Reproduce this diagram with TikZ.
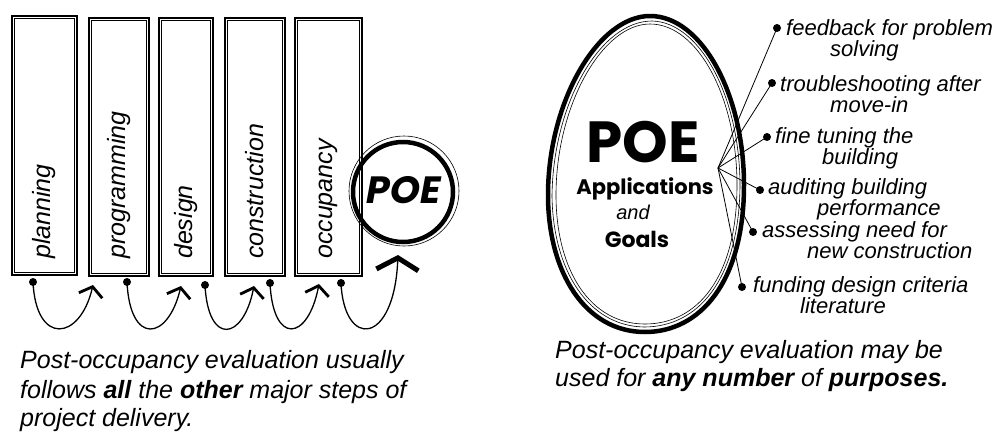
\documentclass[tikz,border=0pt]{standalone}
\usepackage{fontspec}
\setmainfont{Liberation Sans}
\newfontfamily\bubble{Poppins}
\newfontfamily\bubbleslant[FakeSlant=0.18]{Poppins}
\usetikzlibrary{arrows.meta}
\tikzset{
  hand/.style={font=\fontsize{22}{24}\selectfont\itshape, inner sep=0pt, anchor=base west},
  caption/.style={font=\fontsize{25}{29}\selectfont\itshape, inner sep=0pt, anchor=base west},
  boxlabel/.style={font=\fontsize{25}{29}\selectfont\itshape, inner sep=0pt, rotate=90, anchor=west},
  stepbox/.style={draw, line width=2.6pt, inner sep=0pt},
  innerline/.style={line width=0.6pt},
  dot/.style={circle, fill, inner sep=0pt, minimum size=8pt},
  loopline/.style={line width=1.3pt, -{Straight Barb[length=9pt,width=24pt,line width=2.8pt]}},
  lastloop/.style={line width=1.3pt, -{Straight Barb[length=12pt,width=42pt,line width=5pt]}},
  spoke/.style={line width=0.8pt},
  eggtext/.style={font=\bubble\bfseries\fontsize{21}{24}\selectfont, inner sep=0pt, anchor=base},
}
\begin{document}
\begin{tikzpicture}[x=1pt,y=-1pt]
\useasboundingbox (0,0) rectangle (1005,432);

% ---------- left: steps of project delivery ----------
\node[stepbox, minimum width=65pt, minimum height=259pt] (b1) at (44.5,145.5) {};
\node[stepbox, minimum width=60pt, minimum height=258pt] (b2) at (119,147) {};
\node[stepbox, minimum width=54pt, minimum height=258pt] (b3) at (186,147) {};
\node[stepbox, minimum width=60pt, minimum height=258pt] (b4) at (255,147) {};
\node[stepbox, minimum width=67pt, minimum height=258pt] (b5) at (328.5,147) {};
\foreach \b in {b1,b2,b3,b4,b5}{
  \draw[innerline] ([shift={(4,4)}]\b.north west) rectangle ([shift={(-4,-4)}]\b.south east);
}

\node[boxlabel] (l1) at (44,259) {planning};
\node[boxlabel] (l2) at (119,259) {programming};
\node[boxlabel] (l3) at (186,259) {design};
\node[boxlabel] (l4) at (255,259) {construction};
\node[boxlabel] (l5) at (328,259) {occupancy};

% POE circle
\node[circle, draw, line width=4.5pt, minimum size=100pt, inner sep=0pt] (poe) at (403,192) {};
\draw[innerline] (404,191) circle[radius=55];
\node[font=\bubbleslant\bfseries\fontsize{38}{40}\selectfont, inner sep=0pt] (poetxt) at (402,190) {POE};

% dots under the boxes
\node[dot] (d1) at (33,282) {};
\node[dot] (d2) at (127,282) {};
\node[dot] (d3) at (205,285) {};
\node[dot] (d4) at (270,283) {};
\node[dot] (d5) at (341,283) {};
\coordinate (t1) at (93,285);
\coordinate (t2) at (181,286);
\coordinate (t3) at (254,286);
\coordinate (t4) at (319,284);
\coordinate (t5) at (398,255);

\draw[loopline] (d1.center) .. controls (36,346) and (80,341) .. (t1);
\draw[loopline] (d2.center) .. controls (130,346) and (168,341) .. (t2);
\draw[loopline] (d3.center) .. controls (208,346) and (243,341) .. (t3);
\draw[loopline] (d4.center) .. controls (273,346) and (308,341) .. (t4);
\draw[lastloop] (d5.center) .. controls (344,349) and (394,346) .. (t5);

% left caption
\node[caption] (c1) at (20,368) {Post-occupancy evaluation usually};
\node[caption] (c2) at (20,398) {follows \textbf{all} the \textbf{other} major steps of};
\node[caption] (c3) at (20,426) {project delivery.};

% ---------- right: applications and goals ----------
\draw[line width=4.5pt]
  (650,16) .. controls (702,16) and (744,95) .. (744,185)
  .. controls (744,282) and (700,332) .. (645,332)
  .. controls (585,332) and (548,272) .. (548,195)
  .. controls (548,102) and (598,16) .. (650,16) -- cycle;
\draw[innerline]
  (650,24) .. controls (698,24) and (737,98) .. (737,185)
  .. controls (737,278) and (697,324) .. (645,324)
  .. controls (590,324) and (556,270) .. (556,195)
  .. controls (556,106) and (602,24) .. (650,24) -- cycle;
\draw[innerline]
  (652,21) .. controls (700,22) and (740,97) .. (740,186)
  .. controls (739,280) and (698,327) .. (644,327)
  .. controls (588,326) and (553,270) .. (552,196)
  .. controls (553,104) and (600,21) .. (652,21) -- cycle;

\node[font=\bubble\bfseries\fontsize{58}{60}\selectfont, inner sep=0pt, anchor=base, text depth=0pt, text height=42pt] (poe2) at (643,162) {POE};
\node[eggtext, text height=15pt] (app) at (645,194) {Applications};
\node[font=\fontsize{20}{22}\selectfont\itshape, inner sep=0pt, anchor=base] (and) at (633,219) {and};
\node[eggtext, font=\bubble\bfseries\fontsize{22}{24}\selectfont] (goals) at (637,247) {Goals};

\coordinate (hub) at (718,168);
\node[dot] (r1) at (777,28) {};
\node[dot] (r2) at (772,83) {};
\node[dot] (r3) at (767,137) {};
\node[dot] (r4) at (760,190) {};
\node[dot] (r5) at (753,232) {};
\node[dot] (r6) at (742,287) {};
\foreach \r in {r1,r2,r3,r4,r5,r6}{
  \draw[spoke] (hub) -- (\r.center);
}

\node[hand] (a1) at (786,35) {feedback for problem};
\node[hand] (a2) at (830,56) {solving};
\node[hand] (b1t) at (780,91) {troubleshooting after};
\node[hand] (b2t) at (830,112) {move-in};
\node[hand] (e1) at (775,143) {fine tuning the};
\node[hand] (e2) at (822,164) {building};
\node[hand] (f1) at (768,194) {auditing building};
\node[hand] (f2) at (817,215) {performance};
\node[hand] (g1) at (762,237) {assessing need for};
\node[hand] (g2) at (807,258) {new construction};
\node[hand] (h1) at (753,292) {funding design criteria};
\node[hand] (h2) at (800,313) {literature};

% right caption
\node[caption] (k1) at (555,358) {Post-occupancy evaluation may be};
\node[caption] (k2) at (555,386) {used for \textbf{any number} of \textbf{purposes.}};
\end{tikzpicture}
\end{document}
